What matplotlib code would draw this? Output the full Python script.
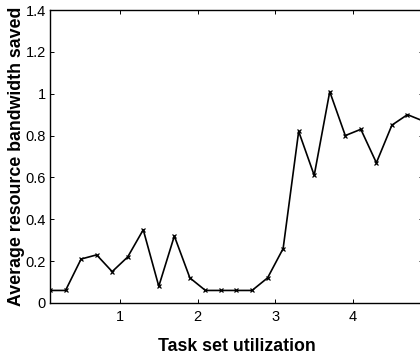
import matplotlib
matplotlib.use("Agg")
import matplotlib.pyplot as plt

utilization = [0.1, 0.3, 0.5, 0.7, 0.9, 1.1, 1.3, 1.5, 1.7, 1.9, 2.1, 2.3, 2.5,
               2.7, 2.9, 3.1, 3.3, 3.5, 3.7, 3.9, 4.1, 4.3, 4.5, 4.7, 4.9]
bandwidth_saved = [0.06, 0.06, 0.21, 0.23, 0.15, 0.22, 0.35, 0.08, 0.32, 0.12, 0.06, 0.06, 0.06,
                   0.06, 0.12, 0.26, 0.82, 0.61, 1.01, 0.80, 0.83, 0.67, 0.85, 0.90, 0.87]
x_ticks = [1, 2, 3, 4]
y_ticks = [0, 0.2, 0.4, 0.6, 0.8, 1.0, 1.2, 1.4]
y_ticklabels = ["0", "0.2", "0.4", "0.6", "0.8", "1", "1.2", "1.4"]

plt.rcParams["font.family"] = ["Liberation Sans", "DejaVu Sans"]

fig = plt.figure(figsize=(4.2, 3.55), dpi=100)
# right edge of the axes runs just past the figure, as in the cropped original
ax = fig.add_axes([50 / 420, 52 / 355, 373 / 420, 293 / 355])

ax.plot(utilization, bandwidth_saved, color="black", linewidth=1.2,
        marker="x", markersize=3, markeredgewidth=0.9)

ax.set_xlim(0.1, 4.9)
ax.set_ylim(0, 1.4)
ax.set_xticks(x_ticks)
ax.set_xticklabels([str(t) for t in x_ticks])
ax.set_yticks(y_ticks)
ax.set_yticklabels(y_ticklabels)
ax.tick_params(direction="in", top=True, right=True, labelsize=10.5, length=3,
               width=0.7, pad=3)
ax.tick_params(axis="x", pad=5)
for s in ax.spines.values():
    s.set_linewidth(1.0)

ax.set_xlabel("Task set utilization", fontsize=12.8, fontweight="bold", labelpad=10)
ax.set_ylabel("Average resource bandwidth saved", fontsize=12.8, fontweight="bold", labelpad=0)

fig.savefig("out.png", dpi=100)
